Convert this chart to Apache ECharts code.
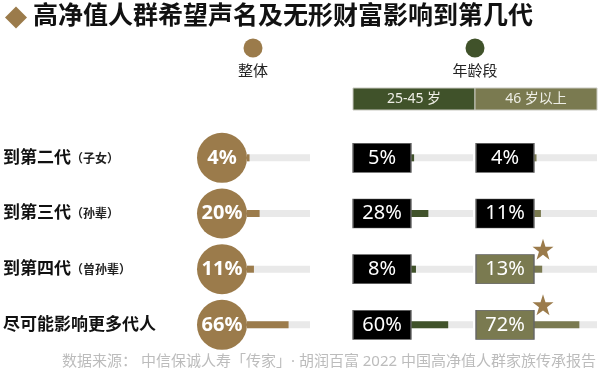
<!DOCTYPE html>
<html>
<head>
<meta charset="utf-8">
<script src="https://cdn.jsdelivr.net/npm/echarts@6/dist/echarts.min.js"></script>
<style>
  html, body { margin: 0; padding: 0; background: #fff; }
  #chart { width: 600px; height: 376px; }
</style>
</head>
<body>
<div id="chart"></div>
<script>
const rowNames = ["到第二代", "到第三代", "到第四代", "尽可能影响更多代人"];
const rowSubs = ["（子女）", "（孙辈）", "（曾孙辈）", ""];
const overall = [4, 20, 11, 66];
const age25to45 = [5, 28, 8, 60];
const age46plus = [4, 11, 13, 72];
const starred46 = [false, false, true, true];
const track = [100, 100, 100, 100];

const FONT = '"Noto Sans", "Noto Sans CJK SC", sans-serif';
const GOLD = "#9b7b4b";
const GREEN = "#40522a";
const OLIVE = "#7a7a50";
const TRACK = "#e9e9e9";

const STAR = "path://M50,0 L61.2,34.5 L97.6,34.5 L68.2,55.9 L79.4,90.5 L50,69.1 L20.6,90.5 L31.8,55.9 L2.4,34.5 L38.8,34.5 Z";

const chart = echarts.init(document.getElementById("chart"));

const gridTop = 130;
const gridHeight = 222.7;

function trackSeries(idx) {
  return {
    type: "bar", xAxisIndex: idx, yAxisIndex: idx,
    data: track, barWidth: 7, silent: true, z: 1,
    itemStyle: { color: TRACK }
  };
}
function valueSeries(idx, data, color) {
  return {
    type: "bar", xAxisIndex: idx, yAxisIndex: idx,
    data: data, barWidth: 7, barGap: "-100%", z: 2,
    itemStyle: { color: color }
  };
}

chart.setOption({
  animation: false,
  textStyle: { fontFamily: FONT },
  title: [
    {
      text: "高净值人群希望声名及无形财富影响到第几代",
      left: 33, top: 4, padding: 0,
      textStyle: { fontSize: 25, fontWeight: "bold", color: "#111", fontFamily: FONT }
    },
    {
      text: "数据来源： 中信保诚人寿「传家」· 胡润百富 2022 中国高净值人群家族传承报告",
      right: 4, top: 354, padding: 0,
      textStyle: { fontSize: 15, fontWeight: "normal", color: "#bcbcbc", fontFamily: FONT }
    }
  ],
  graphic: [
    { type: "polygon", shape: { points: [[16, 6.5], [27, 17.5], [16, 28.5], [5, 17.5]] }, style: { fill: GOLD } },
    { type: "circle", shape: { cx: 253, cy: 48, r: 9.5 }, style: { fill: GOLD } },
    { type: "text", x: 253, y: 72, style: { text: "整体", fill: "#222", fontSize: 15, fontFamily: FONT, align: "center", verticalAlign: "middle" } },
    { type: "circle", shape: { cx: 475, cy: 48, r: 9.5 }, style: { fill: GREEN } },
    { type: "text", x: 475, y: 72, style: { text: "年龄段", fill: "#222", fontSize: 15, fontFamily: FONT, align: "center", verticalAlign: "middle" } },
    { type: "rect", shape: { x: 353, y: 88, width: 122, height: 22 }, style: { fill: GREEN, stroke: "#c8c8c0", lineWidth: 1 } },
    { type: "text", x: 414, y: 99, style: { text: "25-45 岁", fill: "#eeeee6", fontSize: 14, fontFamily: FONT, align: "center", verticalAlign: "middle" } },
    { type: "rect", shape: { x: 475, y: 88, width: 122, height: 22 }, style: { fill: OLIVE, stroke: "#c8c8c0", lineWidth: 1 } },
    { type: "text", x: 536, y: 99, style: { text: "46 岁以上", fill: "#eeeee6", fontSize: 14, fontFamily: FONT, align: "center", verticalAlign: "middle" } }
  ],
  grid: [
    { left: 247, width: 63, top: gridTop, height: gridHeight },
    { left: 411, width: 62, top: gridTop, height: gridHeight },
    { left: 534, width: 63, top: gridTop, height: gridHeight }
  ],
  xAxis: [0, 1, 2].map(i => ({ type: "value", gridIndex: i, min: 0, max: 100, show: false })),
  yAxis: [0, 1, 2].map(i => ({
    type: "category", gridIndex: i, inverse: true, data: rowNames,
    axisLine: { show: false }, axisTick: { show: false }, splitLine: { show: false },
    axisLabel: i === 0 ? {
      show: true, align: "left", margin: 244,
      formatter: (v, k) => `{a|${rowNames[k]}}{b|${rowSubs[k]}}`,
      rich: {
        a: { fontSize: 17, fontWeight: "bold", color: "#111", fontFamily: FONT },
        b: { fontSize: 12, fontWeight: "bold", color: "#222", fontFamily: FONT, padding: [3, 0, 0, 0] }
      }
    } : { show: false }
  })),
  series: [
    trackSeries(0),
    valueSeries(0, overall, GOLD),
    {
      type: "scatter", xAxisIndex: 0, yAxisIndex: 0, z: 5,
      data: overall.map((v, i) => [0, i, v]),
      symbol: "circle", symbolSize: 50, symbolOffset: [-25, 0],
      itemStyle: { color: GOLD, opacity: 1 },
      label: {
        show: true, position: "inside", formatter: p => p.value[2] + "%",
        color: "#fff", fontSize: 20, fontWeight: "bold", fontFamily: FONT
      }
    },
    trackSeries(1),
    valueSeries(1, age25to45, GREEN),
    {
      type: "scatter", xAxisIndex: 1, yAxisIndex: 1, z: 5,
      data: age25to45.map((v, i) => [0, i, v]),
      symbol: "rect", symbolSize: [58, 29], symbolOffset: [-29, 0],
      itemStyle: { color: "#000", borderColor: "#666", borderWidth: 1, opacity: 1 },
      label: {
        show: true, position: "inside", formatter: p => p.value[2] + "%",
        color: "#fff", fontSize: 20, fontFamily: FONT
      }
    },
    trackSeries(2),
    valueSeries(2, age46plus, OLIVE),
    {
      type: "scatter", xAxisIndex: 2, yAxisIndex: 2, z: 5,
      data: age46plus.map((v, i) => ({
        value: [0, i, v],
        itemStyle: { color: starred46[i] ? OLIVE : "#000" }
      })),
      symbol: "rect", symbolSize: [58, 29], symbolOffset: [-29, 0],
      itemStyle: { borderColor: "#666", borderWidth: 1, opacity: 1 },
      label: {
        show: true, position: "inside", formatter: p => p.value[2] + "%",
        color: "#fff", fontSize: 20, fontFamily: FONT
      }
    },
    {
      type: "scatter", xAxisIndex: 2, yAxisIndex: 2, z: 6,
      data: starred46.map((s, i) => s ? [0, i] : null).filter(d => d),
      symbol: STAR, symbolSize: 21, symbolOffset: [9, -20],
      itemStyle: { color: GOLD, opacity: 1 }
    }
  ]
});
</script>
</body>
</html>
